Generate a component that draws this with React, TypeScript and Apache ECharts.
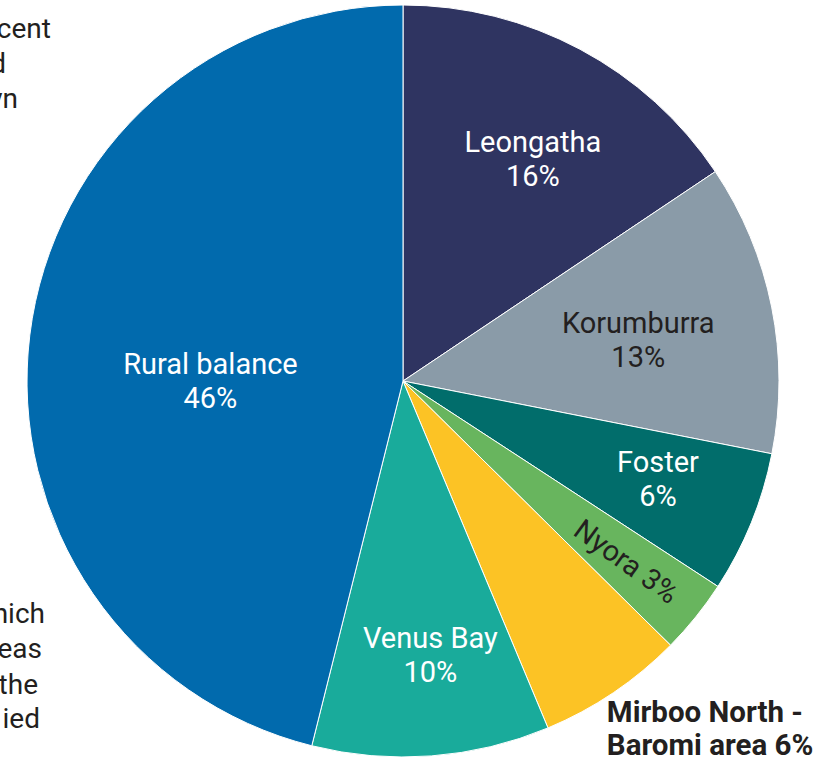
import React, { useEffect, useRef } from "react";
import * as echarts from "echarts";

const categories = ["Leongatha", "Korumburra", "Foster", "Nyora", "Mirboo North -\nBaromi area", "Venus Bay", "Rural balance"];
const values = [15.6, 12.5, 6.1, 3.2, 6.3, 10.2, 46.1];
const colors = ["#2f3461", "#8a9ba8", "#016d6b", "#68b55e", "#fcc325", "#19ab9b", "#016aad"];
const labelColors = ["#ffffff", "#231f20", "#ffffff", "#231f20", "#231f20", "#ffffff", "#ffffff"];
const sideTextTop = ["cent", "d", "yn"];
const sideTextBottom = ["hich", "eas", "the", "ied"];

// label shifts relative to the default inside position
const labelShift: [number, number][] = [
  [40, -53],
  [48, -3],
  [78, 26],
  [96, 5],
  [97, 189],
  [13, 84],
  [-3, 23],
];

export default function App() {
  const ref = useRef<HTMLDivElement>(null);
  useEffect(() => {
    document.body.style.margin = "0";
    const chart = echarts.init(ref.current!, null, { renderer: "svg" });
    const font = "Roboto, 'Noto Sans', sans-serif";
    const data = categories.map((name, i) => ({
      name,
      value: values[i],
      itemStyle: { color: colors[i] },
      label: {
        color: labelColors[i],
        fontWeight: i === 4 ? "bold" : "normal",
        fontSize: i === 4 ? 29.5 : 29,
        lineHeight: i === 4 ? 33 : 34,
        rotate: i === 3 ? -36 : 0,
        formatter:
          i === 3
            ? (p: any) => `${p.name} ${Math.round(p.value)}%`
            : i === 4
            ? (p: any) => `Mirboo North -\nBaromi area ${Math.round(p.value)}%`
            : (p: any) => `${p.name}\n${Math.round(p.value)}%`,
      },
    }));
    const topRight = [51, 6, 18];
    const topBase = [42, 77, 112];
    const botRight = [45, 42, 38, 40];
    const botBase = [627, 662, 698, 732];
    const graphics: any[] = [];
    sideTextTop.forEach((t, i) =>
      graphics.push({
        type: "text",
        x: topRight[i],
        y: topBase[i],
        style: { text: t, fill: "#231f20", font: `28px ${font}`, align: "right", verticalAlign: "bottom" },
      })
    );
    sideTextBottom.forEach((t, i) =>
      graphics.push({
        type: "text",
        x: botRight[i],
        y: botBase[i],
        style: { text: t, fill: "#231f20", font: `28px ${font}`, align: "right", verticalAlign: "bottom" },
      })
    );
    chart.setOption({
      animation: false,
      graphic: graphics,
      series: [
        {
          type: "pie",
          center: [403, 381],
          radius: [0, 376],
          startAngle: 90,
          clockwise: true,
          avoidLabelOverlap: false,
          data,
          itemStyle: { borderColor: "#ffffff", borderWidth: 1 },
          label: {
            show: true,
            position: "inside",
            fontFamily: font,
            fontSize: 29,
            lineHeight: 34,
          },
          labelLine: { show: false },
          labelLayout: (p: any) => {
            const s = labelShift[p.dataIndex];
            const out: any = { dx: s[0], dy: s[1] };
            if (p.dataIndex === 4) out.align = "left";
            return out;
          },
        },
      ],
    });
    return () => chart.dispose();
  }, []);
  return <div ref={ref} style={{ width: 832, height: 761 }} />;
}
